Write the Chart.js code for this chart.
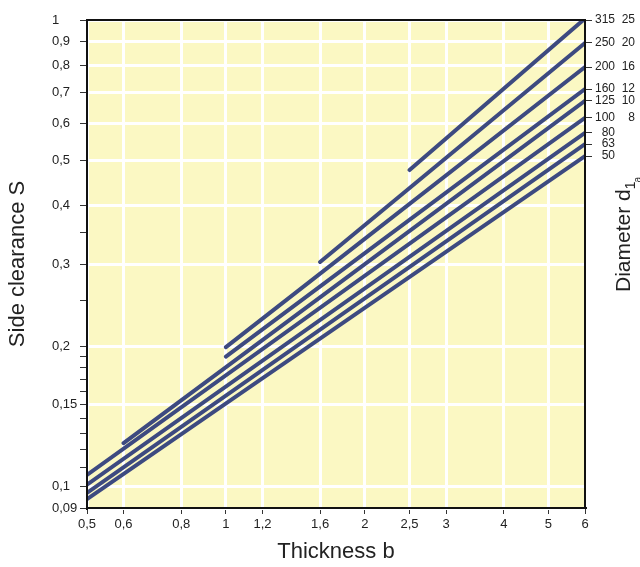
<!DOCTYPE html>
<html>
<head>
<meta charset="utf-8">
<script src="https://cdn.jsdelivr.net/npm/chart.js@4.4.0/dist/chart.umd.min.js"></script>
<style>
  html, body { margin: 0; padding: 0; background: #fff; }
  #wrap { width: 640px; height: 567px; }
</style>
</head>
<body>
<div id="wrap"><canvas id="clearance"></canvas></div>
<script>
// axis ticks
const thicknessTicks = [0.5, 0.6, 0.8, 1, 1.2, 1.6, 2, 2.5, 3, 4, 5, 6];
const clearanceTicks = [0.09, 0.1, 0.15, 0.2, 0.3, 0.4, 0.5, 0.6, 0.7, 0.8, 0.9, 1];
const clearanceMinor = [0.11, 0.12, 0.13, 0.14, 0.16, 0.17, 0.18, 0.19, 0.25, 0.35];

// one line per diameter d1, start / end
const diameters  = [315, 250, 200, 160, 125, 100, 80, 63, 50];
const diameters2 = [25, 20, 16, 12, 10, 8, null, null, null];
const bStart = [2.5, 1.6, 1, 1, 0.6, 0.5, 0.5, 0.5, 0.5];
const sStart = [0.477, 0.303, 0.199, 0.19, 0.124, 0.106, 0.101, 0.097, 0.094];
const bEnd   = [5.95, 6, 6, 6, 6, 6, 6, 6, 6];
const sEnd   = [1.0, 0.893, 0.793, 0.711, 0.671, 0.617, 0.573, 0.542, 0.511];

Chart.defaults.font.family = "'Liberation Sans', Arial, sans-serif";
Chart.defaults.color = '#222';

const comma = v => String(v).replace('.', ',');

// right hand labels: two right aligned columns, spaces pad the short ones
function diamLabel(i) {
  let a = String(diameters[i]);
  if (a.length < 3) a = '  ' + a;
  if (diameters2[i] == null) return a;
  let b = String(diameters2[i]);
  if (b.length < 2) b = '  ' + b;
  return a + '  ' + b;
}

const datasets = diameters.map((d, i) => ({
  label: 'd1 ' + d,
  data: [{x: bStart[i], y: sStart[i]}, {x: bEnd[i], y: sEnd[i]}],
  borderColor: '#3d4a80',
  borderWidth: 4,
  borderCapStyle: 'round',
  pointRadius: 0,
  fill: false,
  yAxisID: 'y'
}));

const plotFrame = {
  id: 'plotFrame',
  beforeDraw(chart) {
    const {ctx, chartArea: a} = chart;
    ctx.save();
    ctx.fillStyle = '#fbf8c3';
    ctx.fillRect(a.left, a.top, a.width, a.height);
    ctx.restore();
  },
  afterDatasetsDraw(chart) {
    const {ctx, chartArea: a} = chart;
    ctx.save();
    ctx.strokeStyle = '#111';
    ctx.lineWidth = 2;
    ctx.strokeRect(a.left, a.top, a.width, a.height);
    ctx.restore();
  },
  afterDraw(chart) {
    // "Diameter d1a" on the right, rotated, with subscripts
    const ctx = chart.ctx;
    const ff = Chart.defaults.font.family;
    ctx.save();
    ctx.translate(630, 292);
    ctx.rotate(-Math.PI / 2);
    ctx.fillStyle = '#222';
    ctx.textBaseline = 'alphabetic';
    ctx.textAlign = 'left';
    ctx.font = '21px ' + ff;
    const main = 'Diameter d';
    ctx.fillText(main, 0, 0);
    let w = ctx.measureText(main).width;
    ctx.font = '14px ' + ff;
    ctx.fillText('1', w, 5);
    w += ctx.measureText('1').width;
    ctx.font = '10px ' + ff;
    ctx.fillText('a', w - 1, 11);
    ctx.restore();
  }
};

new Chart(document.getElementById('clearance'), {
  type: 'line',
  data: { datasets: datasets },
  plugins: [plotFrame],
  options: {
    responsive: true,
    maintainAspectRatio: false,
    animation: false,
    layout: { padding: { left: 52, top: 20, right: 0, bottom: 0 } },
    plugins: { legend: { display: false }, tooltip: { enabled: false } },
    scales: {
      x: {
        type: 'logarithmic',
        min: 0.5, max: 6,
        afterBuildTicks: s => { s.ticks = thicknessTicks.map(v => ({value: v})); },
        afterFit: s => { s.height = 59; },
        ticks: { autoSkip: false, maxRotation: 0, padding: 3, font: { size: 13 }, callback: v => comma(v) },
        grid: { color: '#fff', lineWidth: 3, tickColor: '#333', tickWidth: 1, tickLength: 6 },
        border: { color: '#111', width: 2 },
        title: { display: true, text: 'Thickness b', font: { size: 22 }, padding: { top: 0, bottom: 2 } }
      },
      y: {
        type: 'logarithmic',
        position: 'left',
        min: 0.09, max: 1,
        afterBuildTicks: s => {
          s.ticks = clearanceTicks.concat(clearanceMinor).sort((a, b) => a - b).map(v => ({value: v}));
        },
        afterFit: s => { s.width = 35; },
        ticks: {
          autoSkip: false, crossAlign: 'far', font: { size: 13 },
          callback: v => clearanceTicks.includes(v) ? comma(v) : ''
        },
        grid: {
          color: c => (c.tick && clearanceTicks.includes(c.tick.value)) ? '#fff' : 'rgba(0,0,0,0)',
          lineWidth: 3, tickColor: '#333', tickWidth: 1, tickLength: 7
        },
        border: { color: '#111', width: 2 },
        title: { display: true, text: 'Side clearance S', font: { size: 22 }, padding: { top: -47, bottom: 0 } }
      },
      y2: {
        type: 'logarithmic',
        position: 'right',
        min: 0.09, max: 1,
        afterBuildTicks: s => { s.ticks = sEnd.map(v => ({value: v})); },
        afterFit: s => { s.width = 55; },
        ticks: {
          autoSkip: false, padding: 3, font: { size: 12 },
          callback: v => { const i = sEnd.indexOf(v); return i < 0 ? '' : diamLabel(i); }
        },
        grid: { drawOnChartArea: false, tickColor: '#333', tickWidth: 1, tickLength: 7 },
        border: { color: '#111', width: 2 }
      }
    }
  }
});
</script>
</body>
</html>
